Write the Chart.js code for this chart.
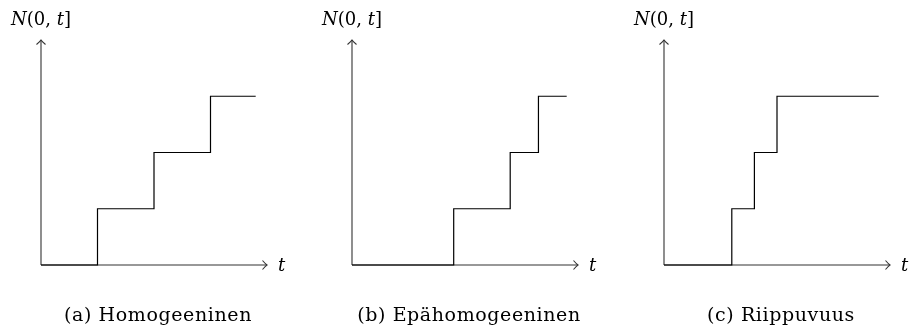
<!DOCTYPE html>
<html>
<head>
<meta charset="utf-8">
<script src="https://cdn.jsdelivr.net/npm/chart.js@4.4.1/dist/chart.umd.min.js"></script>
<style>
  html, body { margin: 0; padding: 0; background: #fff; }
  #wrap { position: relative; width: 909px; height: 329px; }
  canvas { position: absolute; top: 0; }
</style>
</head>
<body>
<div id="wrap">
  <canvas id="c1" width="311" height="329" style="left:0px"></canvas>
  <canvas id="c2" width="311" height="329" style="left:311px"></canvas>
  <canvas id="c3" width="311" height="329" style="left:623px"></canvas>
</div>
<script>
// jump times of the three counting processes
const jumpsHomog = [1.0, 2.0, 3.0];
const jumpsInhomog = [1.8, 2.8, 3.3];
const jumpsDepend = [1.2, 1.6, 2.0];
const tEnd = 3.8;
const axisMax = 4;

const captions = ['(a) Homogeeninen', '(b) Epähomogeeninen', '(c) Riippuvuus'];
const yLabel = [['N', true], ['(0, ', false], ['t', true], [']', false]];
const xLabel = 't';

const SERIF = '"DejaVu Serif", "Liberation Serif", serif';

// N(t) = number of jumps up to t, right-continuous
function countingPoints(jumps) {
    const pts = [{ x: 0, y: 0 }];
    jumps.forEach((t, i) => pts.push({ x: t, y: i + 1 }));
    pts.push({ x: tEnd, y: jumps.length });
    return pts;
}

function arrowHead(ctx, x, y, dir) {
    // curved LaTeX-style tip, dir: 'right' or 'up'
    ctx.beginPath();
    if (dir === 'right') {
        ctx.moveTo(x - 4.5, y - 4.5);
        ctx.quadraticCurveTo(x - 1.5, y - 1, x, y);
        ctx.quadraticCurveTo(x - 1.5, y + 1, x - 4.5, y + 4.5);
    } else {
        ctx.moveTo(x - 4.5, y + 4.5);
        ctx.quadraticCurveTo(x - 1, y + 1.5, x, y);
        ctx.quadraticCurveTo(x + 1, y + 1.5, x + 4.5, y + 4.5);
    }
    ctx.stroke();
}

const axesPlugin = {
    id: 'arrowAxes',
    beforeDatasetsDraw(chart) {
        const ctx = chart.ctx;
        const xs = chart.scales.x, ys = chart.scales.y;
        const x0 = xs.getPixelForValue(0), y0 = ys.getPixelForValue(0);
        const xt = xs.getPixelForValue(axisMax), yt = ys.getPixelForValue(axisMax);
        ctx.save();
        ctx.strokeStyle = '#333';
        ctx.lineWidth = 1.1;
        ctx.beginPath();
        ctx.moveTo(x0, y0);
        ctx.lineTo(xt, y0);
        ctx.moveTo(x0, y0);
        ctx.lineTo(x0, yt);
        ctx.stroke();
        arrowHead(ctx, xt, y0, 'right');
        arrowHead(ctx, x0, yt, 'up');
        ctx.restore();
    },
    afterDraw(chart) {
        const ctx = chart.ctx;
        const xs = chart.scales.x, ys = chart.scales.y;
        const x0 = xs.getPixelForValue(0), y0 = ys.getPixelForValue(0);
        const xt = xs.getPixelForValue(axisMax);
        ctx.save();
        ctx.fillStyle = '#000';
        ctx.textBaseline = 'alphabetic';

        // N(0, t] centred over the vertical axis
        const size = 18;
        const font = it => (it ? 'italic ' : '') + size + 'px ' + SERIF;
        let w = 0;
        yLabel.forEach(([s, it]) => { ctx.font = font(it); w += ctx.measureText(s).width; });
        let x = x0 - w / 2;
        yLabel.forEach(([s, it]) => {
            ctx.font = font(it);
            ctx.fillText(s, x, 25);
            x += ctx.measureText(s).width;
        });

        ctx.font = font(true);
        ctx.textAlign = 'left';
        ctx.fillText(xLabel, xt + 11, y0 + 6);

        ctx.font = '19px ' + SERIF;
        ctx.letterSpacing = '0.6px';
        ctx.textAlign = 'center';
        ctx.fillText(chart.options.plugins.caption.text, x0 + 117, 321);
        ctx.restore();
    }
};

function makePanel(id, jumps, caption) {
    new Chart(document.getElementById(id), {
        type: 'line',
        data: {
            datasets: [{
                data: countingPoints(jumps),
                stepped: 'before',
                borderColor: '#000',
                borderWidth: 1.2,
                pointRadius: 0,
                fill: false,
                clip: false
            }]
        },
        options: {
            responsive: false,
            animation: false,
            layout: { padding: { left: 41, right: 44, top: 40, bottom: 64 } },
            scales: {
                x: { type: 'linear', min: 0, max: axisMax, display: false },
                y: { type: 'linear', min: 0, max: axisMax, display: false }
            },
            plugins: {
                legend: { display: false },
                tooltip: { enabled: false },
                caption: { text: caption }
            }
        },
        plugins: [axesPlugin]
    });
}

makePanel('c1', jumpsHomog, captions[0]);
makePanel('c2', jumpsInhomog, captions[1]);
makePanel('c3', jumpsDepend, captions[2]);
</script>
</body>
</html>
